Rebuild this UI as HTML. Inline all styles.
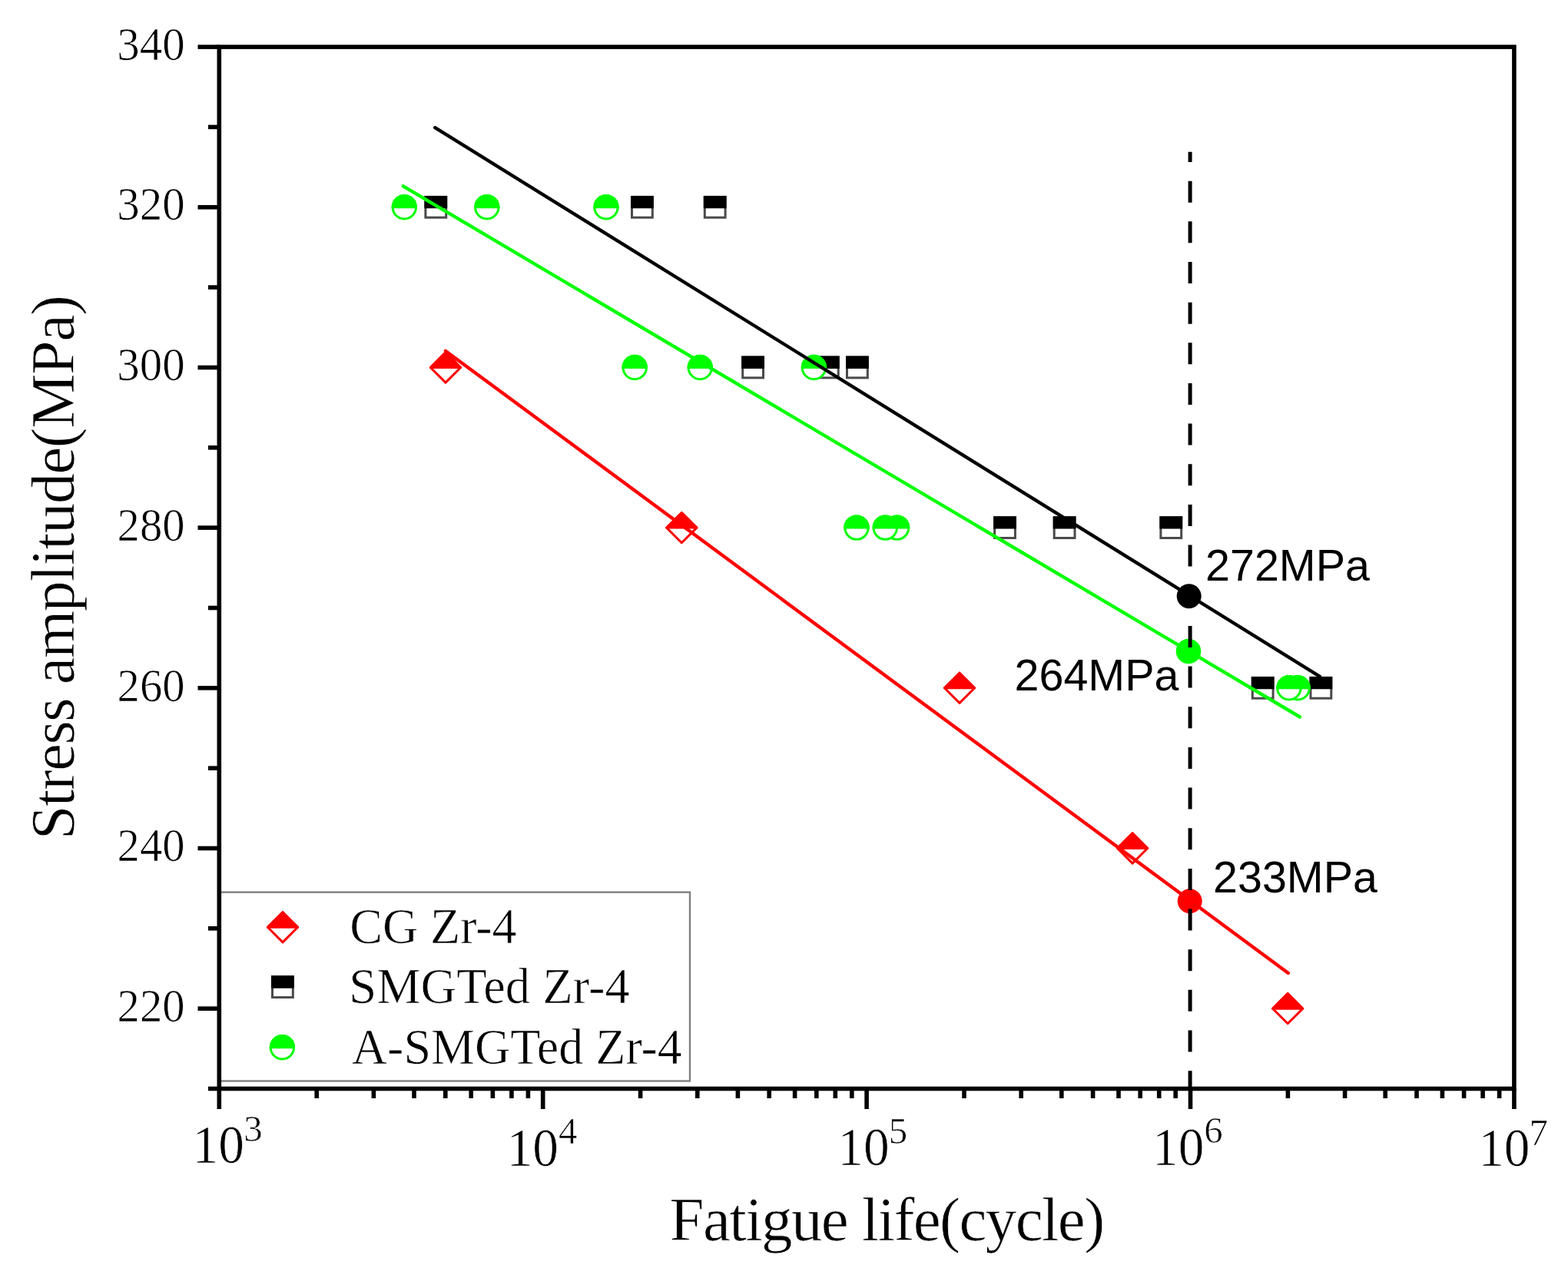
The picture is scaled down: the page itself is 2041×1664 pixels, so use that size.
<!DOCTYPE html>
<html><head><meta charset="utf-8"><title>Fatigue life S-N curve</title><style>html,body{margin:0;padding:0;background:#fff;}svg{display:block;}</style></head>
<body>
<svg width="2041" height="1664" viewBox="0 0 2041 1664">
<style>.er{stroke:#fff;stroke-width:0.7px;}</style>
<rect width="2041" height="1664" fill="#fff"/>
<rect x="286" y="1161.7" width="612" height="245.8" fill="none" stroke="#808080" stroke-width="2.4"/>
<rect x="553.9" y="256.4" width="26.8" height="26.8" fill="#fff" stroke="#4a4a4a" stroke-width="3.0"/><path d="M553.9,269.8V256.4H580.7V269.8Z" fill="#000" stroke="#000" stroke-width="3.0" stroke-linejoin="miter"/>
<rect x="822.5" y="256.4" width="26.8" height="26.8" fill="#fff" stroke="#4a4a4a" stroke-width="3.0"/><path d="M822.5,269.8V256.4H849.3V269.8Z" fill="#000" stroke="#000" stroke-width="3.0" stroke-linejoin="miter"/>
<rect x="917.3" y="256.4" width="26.8" height="26.8" fill="#fff" stroke="#4a4a4a" stroke-width="3.0"/><path d="M917.3,269.8V256.4H944.1V269.8Z" fill="#000" stroke="#000" stroke-width="3.0" stroke-linejoin="miter"/>
<rect x="966.7" y="465.1" width="26.8" height="26.8" fill="#fff" stroke="#4a4a4a" stroke-width="3.0"/><path d="M966.7,478.5V465.1H993.5V478.5Z" fill="#000" stroke="#000" stroke-width="3.0" stroke-linejoin="miter"/>
<rect x="1064.4" y="465.1" width="26.8" height="26.8" fill="#fff" stroke="#4a4a4a" stroke-width="3.0"/><path d="M1064.4,478.5V465.1H1091.2V478.5Z" fill="#000" stroke="#000" stroke-width="3.0" stroke-linejoin="miter"/>
<rect x="1102.5" y="465.1" width="26.8" height="26.8" fill="#fff" stroke="#4a4a4a" stroke-width="3.0"/><path d="M1102.5,478.5V465.1H1129.3V478.5Z" fill="#000" stroke="#000" stroke-width="3.0" stroke-linejoin="miter"/>
<rect x="1294.6" y="673.7" width="26.8" height="26.8" fill="#fff" stroke="#4a4a4a" stroke-width="3.0"/><path d="M1294.6,687.1V673.7H1321.4V687.1Z" fill="#000" stroke="#000" stroke-width="3.0" stroke-linejoin="miter"/>
<rect x="1372.2" y="673.7" width="26.8" height="26.8" fill="#fff" stroke="#4a4a4a" stroke-width="3.0"/><path d="M1372.2,687.1V673.7H1399.0V687.1Z" fill="#000" stroke="#000" stroke-width="3.0" stroke-linejoin="miter"/>
<rect x="1510.9" y="673.7" width="26.8" height="26.8" fill="#fff" stroke="#4a4a4a" stroke-width="3.0"/><path d="M1510.9,687.1V673.7H1537.7V687.1Z" fill="#000" stroke="#000" stroke-width="3.0" stroke-linejoin="miter"/>
<rect x="1630.3" y="882.4" width="26.8" height="26.8" fill="#fff" stroke="#4a4a4a" stroke-width="3.0"/><path d="M1630.3,895.8V882.4H1657.1V895.8Z" fill="#000" stroke="#000" stroke-width="3.0" stroke-linejoin="miter"/>
<rect x="1706.0" y="882.4" width="26.8" height="26.8" fill="#fff" stroke="#4a4a4a" stroke-width="3.0"/><path d="M1706.0,895.8V882.4H1732.8V895.8Z" fill="#000" stroke="#000" stroke-width="3.0" stroke-linejoin="miter"/>
<circle cx="526.3" cy="269.8" r="15.2" fill="#fff" stroke="#00ff00" stroke-width="3.0"/><path d="M511.1,269.8A15.2,15.2 0 0 1 541.5,269.8Z" fill="#00ff00" stroke="#00ff00" stroke-width="3.0"/>
<circle cx="633.8" cy="269.8" r="15.2" fill="#fff" stroke="#00ff00" stroke-width="3.0"/><path d="M618.6,269.8A15.2,15.2 0 0 1 649.0,269.8Z" fill="#00ff00" stroke="#00ff00" stroke-width="3.0"/>
<circle cx="789.0" cy="269.8" r="15.2" fill="#fff" stroke="#00ff00" stroke-width="3.0"/><path d="M773.8,269.8A15.2,15.2 0 0 1 804.2,269.8Z" fill="#00ff00" stroke="#00ff00" stroke-width="3.0"/>
<circle cx="826.2" cy="478.5" r="15.2" fill="#fff" stroke="#00ff00" stroke-width="3.0"/><path d="M811.0,478.5A15.2,15.2 0 0 1 841.4,478.5Z" fill="#00ff00" stroke="#00ff00" stroke-width="3.0"/>
<circle cx="911.3" cy="478.5" r="15.2" fill="#fff" stroke="#00ff00" stroke-width="3.0"/><path d="M896.1,478.5A15.2,15.2 0 0 1 926.5,478.5Z" fill="#00ff00" stroke="#00ff00" stroke-width="3.0"/>
<circle cx="1059.4" cy="478.5" r="15.2" fill="#fff" stroke="#00ff00" stroke-width="3.0"/><path d="M1044.2,478.5A15.2,15.2 0 0 1 1074.6,478.5Z" fill="#00ff00" stroke="#00ff00" stroke-width="3.0"/>
<circle cx="1115.0" cy="687.1" r="15.2" fill="#fff" stroke="#00ff00" stroke-width="3.0"/><path d="M1099.8,687.1A15.2,15.2 0 0 1 1130.2,687.1Z" fill="#00ff00" stroke="#00ff00" stroke-width="3.0"/>
<circle cx="1167.6" cy="687.1" r="15.2" fill="#fff" stroke="#00ff00" stroke-width="3.0"/><path d="M1152.4,687.1A15.2,15.2 0 0 1 1182.8,687.1Z" fill="#00ff00" stroke="#00ff00" stroke-width="3.0"/>
<circle cx="1152.3" cy="687.1" r="15.2" fill="#fff" stroke="#00ff00" stroke-width="3.0"/><path d="M1137.1,687.1A15.2,15.2 0 0 1 1167.5,687.1Z" fill="#00ff00" stroke="#00ff00" stroke-width="3.0"/>
<circle cx="1689.2" cy="895.8" r="15.2" fill="#fff" stroke="#00ff00" stroke-width="3.0"/><path d="M1674.0,895.8A15.2,15.2 0 0 1 1704.4,895.8Z" fill="#00ff00" stroke="#00ff00" stroke-width="3.0"/>
<circle cx="1677.9" cy="895.8" r="15.2" fill="#fff" stroke="#00ff00" stroke-width="3.0"/><path d="M1662.7,895.8A15.2,15.2 0 0 1 1693.1,895.8Z" fill="#00ff00" stroke="#00ff00" stroke-width="3.0"/>
<path d="M560.4,478.5L580.0,458.9L599.6,478.5L580.0,498.1Z" fill="#fff" stroke="#ff0000" stroke-width="3.0" stroke-linejoin="round"/><path d="M560.4,478.5L580.0,458.9L599.6,478.5Z" fill="#ff0000" stroke="#ff0000" stroke-width="3.0" stroke-linejoin="round"/>
<path d="M867.7,687.1L887.3,667.5L906.9,687.1L887.3,706.7Z" fill="#fff" stroke="#ff0000" stroke-width="3.0" stroke-linejoin="round"/><path d="M867.7,687.1L887.3,667.5L906.9,687.1Z" fill="#ff0000" stroke="#ff0000" stroke-width="3.0" stroke-linejoin="round"/>
<path d="M1229.4,895.8L1249.0,876.2L1268.6,895.8L1249.0,915.4Z" fill="#fff" stroke="#ff0000" stroke-width="3.0" stroke-linejoin="round"/><path d="M1229.4,895.8L1249.0,876.2L1268.6,895.8Z" fill="#ff0000" stroke="#ff0000" stroke-width="3.0" stroke-linejoin="round"/>
<path d="M1454.5,1104.5L1474.1,1084.9L1493.7,1104.5L1474.1,1124.1Z" fill="#fff" stroke="#ff0000" stroke-width="3.0" stroke-linejoin="round"/><path d="M1454.5,1104.5L1474.1,1084.9L1493.7,1104.5Z" fill="#ff0000" stroke="#ff0000" stroke-width="3.0" stroke-linejoin="round"/>
<path d="M1656.6,1313.2L1676.2,1293.6L1695.8,1313.2L1676.2,1332.8Z" fill="#fff" stroke="#ff0000" stroke-width="3.0" stroke-linejoin="round"/><path d="M1656.6,1313.2L1676.2,1293.6L1695.8,1313.2Z" fill="#ff0000" stroke="#ff0000" stroke-width="3.0" stroke-linejoin="round"/>
<line x1="566.2" y1="166.2" x2="1718" y2="880.8" stroke="#000" stroke-width="4.4" stroke-linecap="round"/>
<line x1="524.8" y1="242.4" x2="1692" y2="933.5" stroke="#00ff00" stroke-width="4.4" stroke-linecap="round"/>
<line x1="580" y1="456.9" x2="1676.8" y2="1266.9" stroke="#ff0000" stroke-width="4.4" stroke-linecap="round"/>
<circle cx="1547.7" cy="776.2" r="16" fill="#000"/>
<circle cx="1547" cy="848" r="16.3" fill="#00ff00"/>
<circle cx="1548.7" cy="1173.3" r="16" fill="#ff0000"/>
<line x1="1549.1" y1="197.8" x2="1549.1" y2="1417" stroke="#000" stroke-width="5" stroke-dasharray="28 24.66" stroke-dashoffset="14.8"/>
<rect x="285.3" y="61.1" width="1685.6" height="1356.4" fill="none" stroke="#000" stroke-width="5.6"/>
<line x1="257.5" y1="1313.2" x2="285.3" y2="1313.2" stroke="#000" stroke-width="5.6"/>
<line x1="257.5" y1="1104.5" x2="285.3" y2="1104.5" stroke="#000" stroke-width="5.6"/>
<line x1="257.5" y1="895.8" x2="285.3" y2="895.8" stroke="#000" stroke-width="5.6"/>
<line x1="257.5" y1="687.1" x2="285.3" y2="687.1" stroke="#000" stroke-width="5.6"/>
<line x1="257.5" y1="478.5" x2="285.3" y2="478.5" stroke="#000" stroke-width="5.6"/>
<line x1="257.5" y1="269.8" x2="285.3" y2="269.8" stroke="#000" stroke-width="5.6"/>
<line x1="257.5" y1="61.1" x2="285.3" y2="61.1" stroke="#000" stroke-width="5.6"/>
<line x1="271" y1="1417.5" x2="285.3" y2="1417.5" stroke="#000" stroke-width="5.6"/>
<line x1="271" y1="1208.8" x2="285.3" y2="1208.8" stroke="#000" stroke-width="5.6"/>
<line x1="271" y1="1000.2" x2="285.3" y2="1000.2" stroke="#000" stroke-width="5.6"/>
<line x1="271" y1="791.5" x2="285.3" y2="791.5" stroke="#000" stroke-width="5.6"/>
<line x1="271" y1="582.8" x2="285.3" y2="582.8" stroke="#000" stroke-width="5.6"/>
<line x1="271" y1="374.1" x2="285.3" y2="374.1" stroke="#000" stroke-width="5.6"/>
<line x1="271" y1="165.4" x2="285.3" y2="165.4" stroke="#000" stroke-width="5.6"/>
<line x1="285.3" y1="1417.5" x2="285.3" y2="1444" stroke="#000" stroke-width="5.6"/>
<line x1="706.7" y1="1417.5" x2="706.7" y2="1444" stroke="#000" stroke-width="5.6"/>
<line x1="1128.1" y1="1417.5" x2="1128.1" y2="1444" stroke="#000" stroke-width="5.6"/>
<line x1="1549.5" y1="1417.5" x2="1549.5" y2="1444" stroke="#000" stroke-width="5.6"/>
<line x1="1970.9" y1="1417.5" x2="1970.9" y2="1444" stroke="#000" stroke-width="5.6"/>
<line x1="412.2" y1="1417.5" x2="412.2" y2="1430" stroke="#000" stroke-width="5.6"/>
<line x1="486.4" y1="1417.5" x2="486.4" y2="1430" stroke="#000" stroke-width="5.6"/>
<line x1="539.0" y1="1417.5" x2="539.0" y2="1430" stroke="#000" stroke-width="5.6"/>
<line x1="579.8" y1="1417.5" x2="579.8" y2="1430" stroke="#000" stroke-width="5.6"/>
<line x1="613.2" y1="1417.5" x2="613.2" y2="1430" stroke="#000" stroke-width="5.6"/>
<line x1="641.4" y1="1417.5" x2="641.4" y2="1430" stroke="#000" stroke-width="5.6"/>
<line x1="665.9" y1="1417.5" x2="665.9" y2="1430" stroke="#000" stroke-width="5.6"/>
<line x1="687.4" y1="1417.5" x2="687.4" y2="1430" stroke="#000" stroke-width="5.6"/>
<line x1="833.6" y1="1417.5" x2="833.6" y2="1430" stroke="#000" stroke-width="5.6"/>
<line x1="907.8" y1="1417.5" x2="907.8" y2="1430" stroke="#000" stroke-width="5.6"/>
<line x1="960.4" y1="1417.5" x2="960.4" y2="1430" stroke="#000" stroke-width="5.6"/>
<line x1="1001.2" y1="1417.5" x2="1001.2" y2="1430" stroke="#000" stroke-width="5.6"/>
<line x1="1034.6" y1="1417.5" x2="1034.6" y2="1430" stroke="#000" stroke-width="5.6"/>
<line x1="1062.8" y1="1417.5" x2="1062.8" y2="1430" stroke="#000" stroke-width="5.6"/>
<line x1="1087.3" y1="1417.5" x2="1087.3" y2="1430" stroke="#000" stroke-width="5.6"/>
<line x1="1108.8" y1="1417.5" x2="1108.8" y2="1430" stroke="#000" stroke-width="5.6"/>
<line x1="1255.0" y1="1417.5" x2="1255.0" y2="1430" stroke="#000" stroke-width="5.6"/>
<line x1="1329.2" y1="1417.5" x2="1329.2" y2="1430" stroke="#000" stroke-width="5.6"/>
<line x1="1381.8" y1="1417.5" x2="1381.8" y2="1430" stroke="#000" stroke-width="5.6"/>
<line x1="1422.6" y1="1417.5" x2="1422.6" y2="1430" stroke="#000" stroke-width="5.6"/>
<line x1="1456.0" y1="1417.5" x2="1456.0" y2="1430" stroke="#000" stroke-width="5.6"/>
<line x1="1484.2" y1="1417.5" x2="1484.2" y2="1430" stroke="#000" stroke-width="5.6"/>
<line x1="1508.7" y1="1417.5" x2="1508.7" y2="1430" stroke="#000" stroke-width="5.6"/>
<line x1="1530.2" y1="1417.5" x2="1530.2" y2="1430" stroke="#000" stroke-width="5.6"/>
<line x1="1676.4" y1="1417.5" x2="1676.4" y2="1430" stroke="#000" stroke-width="5.6"/>
<line x1="1750.6" y1="1417.5" x2="1750.6" y2="1430" stroke="#000" stroke-width="5.6"/>
<line x1="1803.2" y1="1417.5" x2="1803.2" y2="1430" stroke="#000" stroke-width="5.6"/>
<line x1="1844.0" y1="1417.5" x2="1844.0" y2="1430" stroke="#000" stroke-width="5.6"/>
<line x1="1877.4" y1="1417.5" x2="1877.4" y2="1430" stroke="#000" stroke-width="5.6"/>
<line x1="1905.6" y1="1417.5" x2="1905.6" y2="1430" stroke="#000" stroke-width="5.6"/>
<line x1="1930.1" y1="1417.5" x2="1930.1" y2="1430" stroke="#000" stroke-width="5.6"/>
<line x1="1951.6" y1="1417.5" x2="1951.6" y2="1430" stroke="#000" stroke-width="5.6"/>
<text transform="translate(240.65,1329.88) scale(0.9716,1)" font-family="'Liberation Serif','Times New Roman',serif" font-size="60.44" text-anchor="end" fill="#000" class="er">220</text>
<text transform="translate(240.65,1121.20) scale(0.9716,1)" font-family="'Liberation Serif','Times New Roman',serif" font-size="60.44" text-anchor="end" fill="#000" class="er">240</text>
<text transform="translate(240.65,912.52) scale(0.9716,1)" font-family="'Liberation Serif','Times New Roman',serif" font-size="60.44" text-anchor="end" fill="#000" class="er">260</text>
<text transform="translate(240.65,703.84) scale(0.9716,1)" font-family="'Liberation Serif','Times New Roman',serif" font-size="60.44" text-anchor="end" fill="#000" class="er">280</text>
<text transform="translate(240.66,495.16) scale(0.9750,1)" font-family="'Liberation Serif','Times New Roman',serif" font-size="60.44" text-anchor="end" fill="#000" class="er">300</text>
<text transform="translate(240.66,286.48) scale(0.9750,1)" font-family="'Liberation Serif','Times New Roman',serif" font-size="60.44" text-anchor="end" fill="#000" class="er">320</text>
<text transform="translate(240.66,77.80) scale(0.9750,1)" font-family="'Liberation Serif','Times New Roman',serif" font-size="60.44" text-anchor="end" fill="#000" class="er">340</text>
<text transform="translate(250.53,1514.25) scale(0.9550,1)" font-family="'Liberation Serif','Times New Roman',serif" font-size="70.60" text-anchor="start" fill="#000" class="er">10</text>
<text transform="translate(317.25,1485.57) scale(0.9900,1)" font-family="'Liberation Serif','Times New Roman',serif" font-size="49.50" text-anchor="start" fill="#000" class="er">3</text>
<text transform="translate(659.63,1517.55) scale(0.9550,1)" font-family="'Liberation Serif','Times New Roman',serif" font-size="70.60" text-anchor="start" fill="#000" class="er">10</text>
<text transform="translate(727.02,1489.22) scale(0.9900,1)" font-family="'Liberation Serif','Times New Roman',serif" font-size="49.50" text-anchor="start" fill="#000" class="er">4</text>
<text transform="translate(1090.23,1517.35) scale(0.9550,1)" font-family="'Liberation Serif','Times New Roman',serif" font-size="70.60" text-anchor="start" fill="#000" class="er">10</text>
<text transform="translate(1156.76,1488.82) scale(0.9900,1)" font-family="'Liberation Serif','Times New Roman',serif" font-size="49.50" text-anchor="start" fill="#000" class="er">5</text>
<text transform="translate(1500.03,1516.95) scale(0.9550,1)" font-family="'Liberation Serif','Times New Roman',serif" font-size="70.60" text-anchor="start" fill="#000" class="er">10</text>
<text transform="translate(1567.29,1488.47) scale(0.9900,1)" font-family="'Liberation Serif','Times New Roman',serif" font-size="49.50" text-anchor="start" fill="#000" class="er">6</text>
<text transform="translate(1924.13,1517.95) scale(0.9550,1)" font-family="'Liberation Serif','Times New Roman',serif" font-size="70.60" text-anchor="start" fill="#000" class="er">10</text>
<text transform="translate(1990.51,1490.82) scale(0.9900,1)" font-family="'Liberation Serif','Times New Roman',serif" font-size="49.50" text-anchor="start" fill="#000" class="er">7</text>
<text x="871.57" y="1615" font-family="'Liberation Serif','Times New Roman',serif" font-size="81" letter-spacing="-1.632" fill="#000" class="er">Fatigue life(cycle)</text>
<text transform="translate(96,1093.20) rotate(-90)" font-family="'Liberation Serif','Times New Roman',serif" font-size="80" letter-spacing="-1.315" fill="#000" class="er">Stress amplitude(MPa)</text>
<path d="M348.4,1207.3L368.0,1187.7L387.6,1207.3L368.0,1226.9Z" fill="#fff" stroke="#ff0000" stroke-width="3.0" stroke-linejoin="round"/><path d="M348.4,1207.3L368.0,1187.7L387.6,1207.3Z" fill="#ff0000" stroke="#ff0000" stroke-width="3.0" stroke-linejoin="round"/>
<rect x="354.5" y="1271.8" width="26.8" height="26.8" fill="#fff" stroke="#4a4a4a" stroke-width="3.0"/><path d="M354.5,1285.2V1271.8H381.3V1285.2Z" fill="#000" stroke="#000" stroke-width="3.0" stroke-linejoin="miter"/>
<circle cx="367.4" cy="1363.8" r="15.2" fill="#fff" stroke="#00ff00" stroke-width="3.0"/><path d="M352.2,1363.8A15.2,15.2 0 0 1 382.6,1363.8Z" fill="#00ff00" stroke="#00ff00" stroke-width="3.0"/>
<text transform="translate(455.24,1227.60) scale(0.9768,1)" font-family="'Liberation Serif','Times New Roman',serif" font-size="65.50" text-anchor="start" fill="#000" class="er">CG Zr-4</text>
<text transform="translate(454.20,1305.60) scale(0.9863,1)" font-family="'Liberation Serif','Times New Roman',serif" font-size="65.50" text-anchor="start" fill="#000" class="er">SMGTed Zr-4</text>
<text transform="translate(457.86,1385.20) scale(0.9776,1)" font-family="'Liberation Serif','Times New Roman',serif" font-size="65.50" text-anchor="start" fill="#000" class="er">A-SMGTed Zr-4</text>
<text transform="translate(1569.03,756.40) scale(0.9900,1)" font-family="'Liberation Sans',Arial,sans-serif" font-size="58.00" text-anchor="start" fill="#000">272MPa</text>
<text transform="translate(1320.53,898.70) scale(0.9900,1)" font-family="'Liberation Sans',Arial,sans-serif" font-size="58.00" text-anchor="start" fill="#000">264MPa</text>
<text transform="translate(1579.03,1161.50) scale(0.9900,1)" font-family="'Liberation Sans',Arial,sans-serif" font-size="58.00" text-anchor="start" fill="#000">233MPa</text>
</svg>
</body></html>
